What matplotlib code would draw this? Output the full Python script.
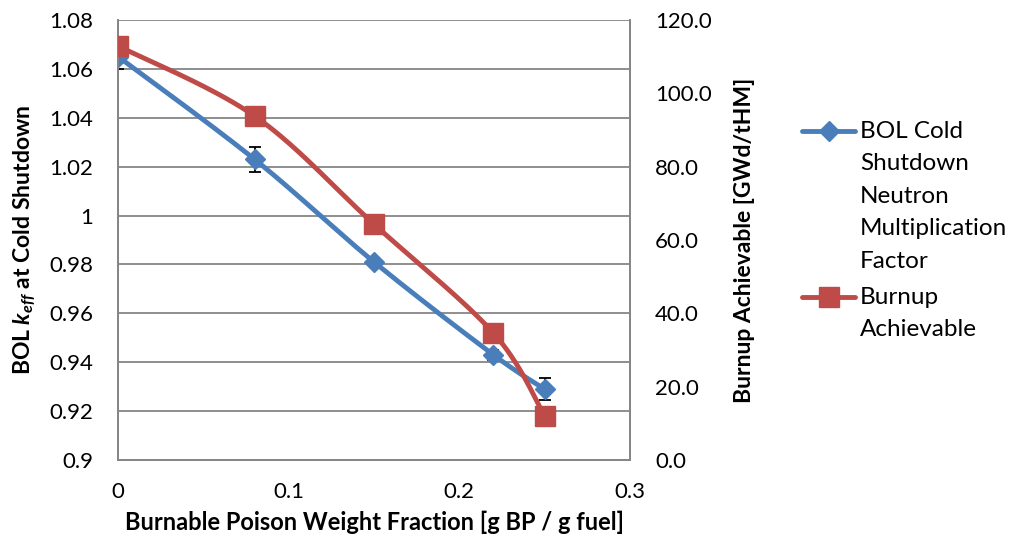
import numpy as np
import matplotlib
matplotlib.use('Agg')
import matplotlib.pyplot as plt
from matplotlib.lines import Line2D

plt.rcParams['font.family'] = ['Lato', 'DejaVu Sans']
plt.rcParams['mathtext.fontset'] = 'custom'
plt.rcParams['mathtext.rm'] = 'Lato:bold'
plt.rcParams['mathtext.it'] = 'Lato:bold:italic'

# data
bp_frac = [0.0, 0.08, 0.15, 0.22, 0.25]
keff = [1.065, 1.023, 0.981, 0.943, 0.929]
keff_err = [0.005, 0.005, 0.0015, 0.002, 0.0045]
burnup = [112.9, 93.8, 64.3, 34.6, 12.0]

BLUE = '#4A7EBB'
RED = '#BE4B48'
GRID = '#868686'


def smooth(x, y, xr, yr, n=40):
    # excel-like smoothed line (catmull-rom / bezier), done in screen-ish units
    sx, sy = 512 / (xr[1] - xr[0]), 440 / (yr[1] - yr[0])
    p = np.column_stack([np.asarray(x) * sx, np.asarray(y) * sy])
    pts = np.vstack([p[0], p, p[-1]])
    out = []
    t = np.linspace(0, 1, n)[:, None]
    for i in range(1, len(pts) - 2):
        p0, p1, p2, p3 = pts[i - 1], pts[i], pts[i + 1], pts[i + 2]
        c1 = p1 + (p2 - p0) / 6
        c2 = p2 - (p3 - p1) / 6
        seg = (1 - t) ** 3 * p1 + 3 * (1 - t) ** 2 * t * c1 + 3 * (1 - t) * t ** 2 * c2 + t ** 3 * p2
        out.append(seg)
    out = np.vstack(out)
    return out[:, 0] / sx, out[:, 1] / sy


fig = plt.figure(figsize=(10.15, 5.46), dpi=100)
ax = fig.add_axes([0.1163, 0.1575, 0.5044, 0.806])
ax2 = ax.twinx()

xlim = (0, 0.3)
ylim = (0.9, 1.08)
y2lim = (0, 120)

xs, ys = smooth(bp_frac, keff, xlim, ylim)
ax.plot(xs, ys, color=BLUE, lw=3.5, zorder=3, solid_capstyle='round')
ax.errorbar(bp_frac, keff, yerr=keff_err, fmt='none', ecolor='black',
            elinewidth=1.3, capsize=4.5, capthick=1.3, zorder=2)
ax.plot(bp_frac, keff, ls='none', marker='D', ms=10, color=BLUE, zorder=4)

xs2, ys2 = smooth(bp_frac, burnup, xlim, y2lim)
ax2.plot(xs2, ys2, color=RED, lw=3.5, zorder=3, solid_capstyle='round')
ax2.plot(bp_frac, burnup, ls='none', marker='s', ms=14, color=RED, zorder=4)

ax.set_xlim(*xlim)
ax.set_ylim(*ylim)
ax2.set_ylim(*y2lim)

yt = np.arange(0.9, 1.0801, 0.02)
ax.set_yticks(yt)
ax.set_yticklabels(['{:g}'.format(round(v, 2)) for v in yt])
xt = [0, 0.1, 0.2, 0.3]
ax.set_xticks(xt)
ax.set_xticklabels(['{:g}'.format(v) for v in xt])
y2t = np.arange(0, 121, 20)
ax2.set_yticks(y2t)
ax2.set_yticklabels(['{:.1f}'.format(v) for v in y2t])

ax.grid(axis='y', color=GRID, lw=1.3)
ax.set_axisbelow(True)
ax.tick_params(axis='y', length=0, pad=18, labelsize=16)
ax.tick_params(axis='x', length=0, pad=16, labelsize=16)
ax2.tick_params(axis='y', length=0, pad=18, labelsize=16)

for a in (ax, ax2):
    for s in a.spines.values():
        s.set_color(GRID)
        s.set_linewidth(1.3)
    a.spines['top'].set_visible(False)

ax.set_xlabel('Burnable Poison Weight Fraction [g BP / g fuel]', fontsize=17,
              fontweight='bold', labelpad=6)
ax.set_ylabel(r'BOL $k_{eff}$ at Cold Shutdown', fontsize=16.5, fontweight='bold', labelpad=8)
ax2.set_ylabel('Burnup Achievable [GWd/tHM]', fontsize=16.5, fontweight='bold', labelpad=16)

# legend drawn by hand, text lines like excel
W, H = 1015, 546
def fx(px):
    return px / W
def fy(py):
    return 1 - py / H

fig.add_artist(Line2D([fx(802), fx(855)], [fy(131), fy(131)], color=BLUE, lw=3.5, solid_capstyle='round'))
fig.add_artist(Line2D([fx(828.5)], [fy(131)], color=BLUE, marker='D', ms=10.5, ls='none'))
fig.add_artist(Line2D([fx(802), fx(855)], [fy(297), fy(297)], color=RED, lw=3.5, solid_capstyle='round'))
fig.add_artist(Line2D([fx(828.5)], [fy(297)], color=RED, marker='s', ms=14, ls='none'))

leg1 = ['BOL Cold', 'Shutdown', 'Neutron', 'Multiplication', 'Factor']
leg2 = ['Burnup', 'Achievable']
for i, t in enumerate(leg1):
    fig.text(fx(860), fy(131 + i * 32.6), t, fontsize=17.5, va='center', ha='left')
for i, t in enumerate(leg2):
    fig.text(fx(860), fy(297 + i * 32), t, fontsize=17.5, va='center', ha='left')

fig.savefig('out.png', dpi=100)
